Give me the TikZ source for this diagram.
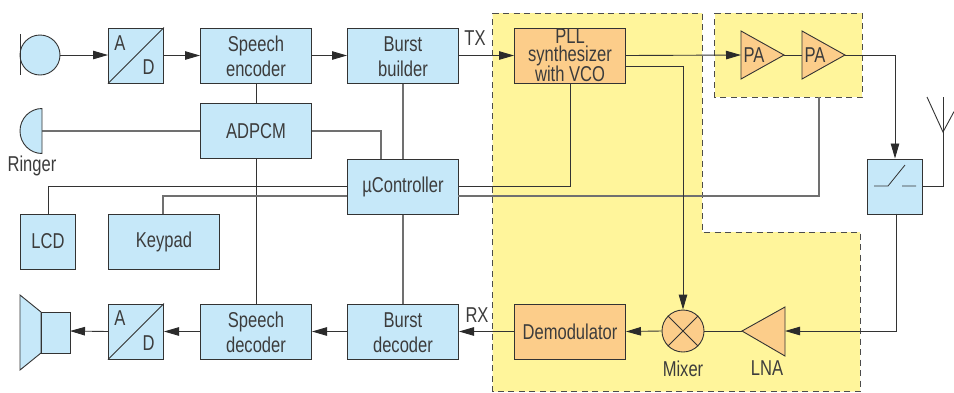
\documentclass[tikz,border=0pt]{standalone}
\usepackage{fontspec}
\setmainfont[FakeStretch=0.77]{Liberation Sans}
\usetikzlibrary{arrows.meta}
\definecolor{bluefill}{HTML}{C6E8F9}
\definecolor{orangefill}{HTML}{FCCD8A}
\definecolor{yellowfill}{HTML}{FFF59B}
\definecolor{ink}{HTML}{333333}
\definecolor{midline}{HTML}{707070}
\definecolor{txt}{HTML}{3C3C3C}
\newcommand{\dropline}{\rule{0pt}{17.5pt}}
\tikzset{
  every node/.style={text=txt,font=\fontsize{21.5}{25.3}\selectfont},
  blockbase/.style={draw=ink,line width=1pt,inner sep=0pt,align=center,anchor=north west},
  bluebox/.style={blockbase,fill=bluefill},
  orangebox/.style={blockbase,fill=orangefill},
  widebox/.style={minimum width=111pt,minimum height=55pt},
  narrowbox/.style={minimum width=55pt,minimum height=55pt},
  wire/.style={draw=ink,line width=0.9pt},
  greywire/.style={draw=midline,line width=1.1pt},
  arrowwire/.style={wire,-{Triangle[length=15pt,width=8.5pt,color=ink!85!black]}},
  zone/.style={fill=yellowfill,draw=black!70,line width=0.9pt,dash pattern=on 6pt off 4.5pt},
  amp/.style={draw=ink,line width=0.9pt,fill=orangefill},
  sym/.style={draw=ink,line width=0.9pt,fill=bluefill},
  thinline/.style={draw=ink,line width=0.8pt},
  lab/.style={inner sep=0pt}
}
\begin{document}
\begin{tikzpicture}[x=1pt,y=-1pt]
\useasboundingbox (0,0) rectangle (954,392);
% zones
\path[zone] (492.5,13) -- (702,13) -- (702,232) -- (860,232) -- (860,391.5) -- (492.5,391.5) -- cycle;
\path[zone] (714.5,13) -- (862,13) -- (862,97) -- (714.5,97) -- cycle;

% blocks
\node[bluebox,narrowbox] (ad1) at (108,27.5) {};
\node[bluebox,widebox] (senc) at (200,27.5) {\dropline Speech\\encoder};
\node[bluebox,widebox] (bb) at (347,27.5) {\dropline Burst\\builder};
\node[bluebox,widebox] (adpcm) at (200,103) {ADPCM};
\node[bluebox,widebox] (uc) at (347,158.5) {µController};
\node[bluebox,narrowbox] (lcd) at (20,213.5) {LCD};
\node[bluebox,widebox] (key) at (108,213.5) {Keypad};
\node[bluebox,narrowbox] (ad2) at (108,303.5) {};
\node[bluebox,widebox] (sdec) at (200,303.5) {\dropline Speech\\decoder};
\node[bluebox,widebox] (bdec) at (347,303.5) {\dropline Burst\\decoder};
\node[orangebox,widebox,font=\fontsize{21.5}{17.3}\selectfont] (pll) at (514,27.5) {PLL\\[0.9pt]synthesizer\\[-0.9pt]with VCO};
\node[orangebox,widebox] (demod) at (514,303.5) {Demodulator};
\node[bluebox,narrowbox] (sw) at (867,158.5) {};
\node[draw=ink,line width=0.9pt,fill=orangefill,circle,inner sep=0pt,minimum size=42pt] (mix) at (683,331) {};
\node[draw=ink,line width=0.9pt,fill=bluefill,circle,inner sep=0pt,minimum size=40pt] (mic) at (40,55) {};

% free ends and junctions
\coordinate (pa1in) at (741,55);
\coordinate (pa1out) at (784,55);
\coordinate (pa2in) at (802,55);
\coordinate (pa2out) at (845,55);
\coordinate (lnatip) at (742,331);
\coordinate (lnain) at (785,331);
\coordinate (ring) at (42,131);
\coordinate (spk) at (70,331);
\coordinate (ant) at (943,97);
\coordinate (antl) at (927,97);
\coordinate (antr) at (954,111.6);
\coordinate (antb) at (943,132);
\coordinate (pllb) at (625,66);
\coordinate (pllu) at (570,83);
\coordinate (ucl) at (347,186);
\coordinate (ucr) at (458,186);
\coordinate (ukl) at (347,196);
\coordinate (ukr) at (458,196);
\coordinate (uct) at (381,158.5);
\coordinate (adk) at (381,131);
\coordinate (lcdt) at (48,213.5);
\coordinate (keyt) at (163,213.5);
\coordinate (zoneb) at (819,97);
\coordinate (swb) at (896,213.5);

% connectors
\path[arrowwire] (mic.east) -- (ad1.west |- mic.east);
\path[arrowwire] (ad1.east) -- (senc.west);
\path[arrowwire] (senc.east) -- (bb.west);
\path[arrowwire] (bb.east) -- (pll.west);
\path[arrowwire] (pll.east) -- (pa1in);
\path[wire] (pa1out) -- (pa2in);
\path[arrowwire] (pa2out) -| (sw.north);
\path[wire] (senc.south) -- (adpcm.north);
\path[wire] (adpcm.south) -- (sdec.north);
\path[greywire] (adpcm.west) -- (ring);
\path[greywire] (adpcm.east) -- (adk) -- (uct);
\path[greywire] (bb.south) -- (uc.north);
\path[greywire] (uc.south) -- (bdec.north);
\path[wire] (ucl) -| (lcdt);
\path[greywire] (ukl) -| (keyt);
\path[wire] (ucr) -| (pllu);
\path[greywire] (ukr) -| (zoneb);
\path[arrowwire] (pllb) -| (mix.north);
\path[wire] (mix.east) -- (lnatip);
\path[arrowwire] (swb) |- (lnain);
\path[arrowwire] (demod.west) -- (bdec.east);
\path[arrowwire] (mix.west) -- (demod.east);
\path[arrowwire] (bdec.west) -- (sdec.east);
\path[arrowwire] (sdec.west) -- (ad2.east);
\path[arrowwire] (ad2.west) -- (spk);
\path[wire] (sw.east) -| (antb);
\path[wire] (antb) -- (ant);
\path[wire] (antl) -- (antb) -- (antr);

% symbols
\path[amp] (741,31) -- (741,79) -- (pa1out) -- cycle;
\path[amp] (802,31) -- (802,79) -- (pa2out) -- cycle;
\path[amp] (lnatip) -- (785,307) -- (785,356) -- cycle;
\path[sym] (41,312) -- (20,295) -- (20,370) -- (41,353) -- cycle;
\path[sym] (41,312) rectangle (70,353);
\path[sym] (42,108.5) arc[start angle=270,end angle=90,x radius=22,y radius=22.5] -- cycle;
\path[wire] (20,34) -- (20,75);
\path[thinline] (mix.45) -- (mix.225) (mix.135) -- (mix.-45);
\path[thinline] (ad1.south west) -- (ad1.north east);
\path[thinline] (ad2.south west) -- (ad2.north east);
\path[thinline] (874,186) -- (888,186) -- (905,165) (902,186) -- (916,186);

% labels
\node[lab] (pa1t) at (754,55) {PA};
\node[lab] (pa2t) at (815,55) {PA};
\node[lab] (a1) at (120,43) {A};
\node[lab] (d1) at (148.5,67) {D};
\node[lab] (a2) at (120,318) {A};
\node[lab] (d2) at (148.5,343) {D};
\node[lab] (tx) at (475,38) {TX};
\node[lab] (rx) at (477,315) {RX};
\node[lab] (mixl) at (683,368.5) {Mixer};
\node[lab] (lnal) at (767,368.5) {LNA};
\node[lab] (ringl) at (32,165.5) {Ringer};
\end{tikzpicture}
\end{document}
